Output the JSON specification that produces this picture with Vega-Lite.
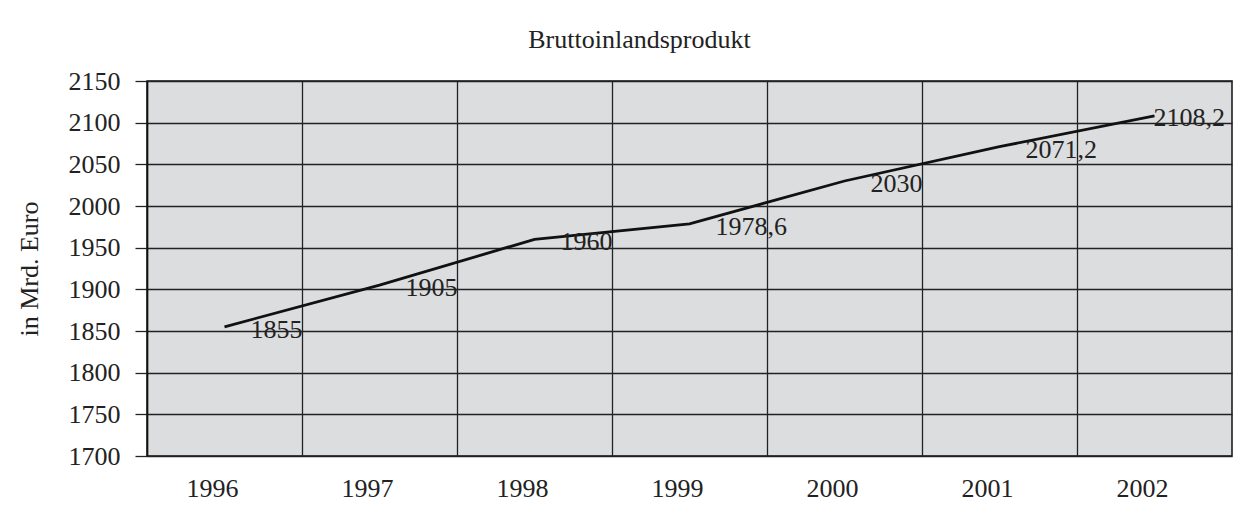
{
  "$schema": "https://vega.github.io/schema/vega-lite/v6.json",
  "width": 1085,
  "height": 375,
  "padding": {"left": 16, "top": 27, "right": 5, "bottom": 5},
  "background": "white",
  "config": {
    "font": "Liberation Serif, Times New Roman, DejaVu Serif, serif",
    "view": {"stroke": "#111", "strokeWidth": 1.5, "fill": "#dcdddf"},
    "locale": {"number": {"decimal": ",", "thousands": ".", "grouping": [3], "currency": ["", " €"]}}
  },
  "title": {
    "text": "Bruttoinlandsprodukt",
    "fontSize": 26,
    "font": "Liberation Serif, Times New Roman, DejaVu Serif, serif",
    "fontWeight": "normal",
    "color": "#222",
    "anchor": "middle",
    "dx": -50,
    "offset": 15
  },
  "data": {
    "values": [
      {"Jahr": "1996", "BIP": 1855},
      {"Jahr": "1997", "BIP": 1905},
      {"Jahr": "1998", "BIP": 1960},
      {"Jahr": "1999", "BIP": 1978.6},
      {"Jahr": "2000", "BIP": 2030},
      {"Jahr": "2001", "BIP": 2071.2},
      {"Jahr": "2002", "BIP": 2108.2}
    ]
  },
  "encoding": {
    "x": {
      "field": "Jahr",
      "type": "ordinal",
      "scale": {"type": "band", "paddingInner": 0, "paddingOuter": 0},
      "axis": {
        "title": null,
        "labelAngle": 0,
        "bandPosition": 0,
        "labelOffset": -12,
        "ticks": false,
        "domain": false,
        "grid": true,
        "gridColor": "#222",
        "gridWidth": 1.3,
        "gridOpacity": 1,
        "labelFontSize": 26,
        "labelColor": "#222",
        "labelPadding": 19,
        "labelFont": "Liberation Serif, Times New Roman, DejaVu Serif, serif"
      }
    },
    "y": {
      "field": "BIP",
      "type": "quantitative",
      "scale": {"domain": [1700, 2150], "nice": false, "zero": false},
      "axis": {
        "title": "in Mrd. Euro",
        "titleFontSize": 26,
        "titleFontWeight": "normal",
        "titleColor": "#222",
        "titlePadding": 26,
        "titleFont": "Liberation Serif, Times New Roman, DejaVu Serif, serif",
        "values": [1700, 1750, 1800, 1850, 1900, 1950, 2000, 2050, 2100, 2150],
        "format": "d",
        "tickSize": 12,
        "tickColor": "#222",
        "tickWidth": 1.3,
        "domainColor": "#111",
        "domainWidth": 1.5,
        "grid": true,
        "gridColor": "#222",
        "gridWidth": 1.3,
        "gridOpacity": 1,
        "labelFontSize": 26,
        "labelColor": "#222",
        "labelPadding": 15,
        "labelFont": "Liberation Serif, Times New Roman, DejaVu Serif, serif"
      }
    }
  },
  "layer": [
    {
      "mark": {"type": "line", "color": "#111", "strokeWidth": 2.8}
    },
    {
      "transform": [{"filter": "datum.Jahr != '2002'"}],
      "mark": {"type": "text", "align": "left", "baseline": "middle", "dx": 26, "dy": 3, "fontSize": 26, "color": "#222", "font": "Liberation Serif, Times New Roman, DejaVu Serif, serif"},
      "encoding": {"text": {"field": "BIP", "type": "quantitative", "format": "~r"}}
    },
    {
      "transform": [{"filter": "datum.Jahr == '2002'"}],
      "mark": {"type": "text", "align": "left", "baseline": "middle", "dx": -1, "dy": 2, "fontSize": 26, "color": "#222", "font": "Liberation Serif, Times New Roman, DejaVu Serif, serif"},
      "encoding": {"text": {"field": "BIP", "type": "quantitative", "format": "~r"}}
    }
  ]
}
